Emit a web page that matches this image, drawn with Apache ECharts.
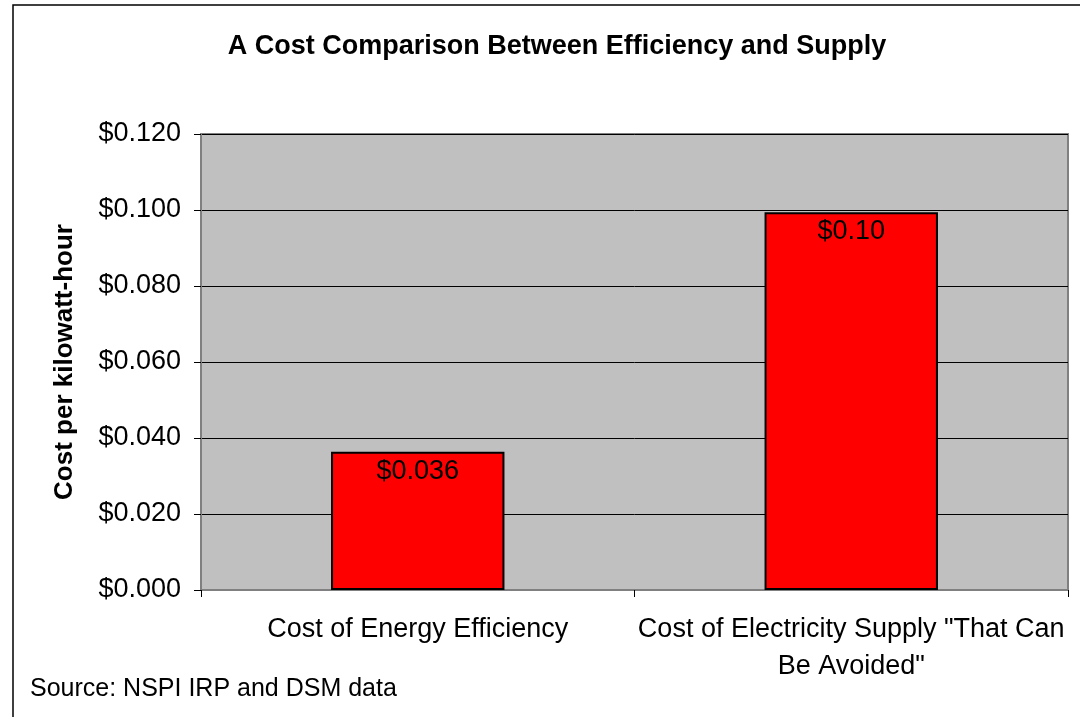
<!DOCTYPE html>
<html>
<head>
<meta charset="utf-8">
<title>A Cost Comparison Between Efficiency and Supply</title>
<script src="https://cdn.jsdelivr.net/npm/echarts@6/dist/echarts.min.js"></script>
<style>
  html, body { margin: 0; padding: 0; background: #fff; }
  #chart { width: 1080px; height: 717px; }
</style>
</head>
<body>
<div id="chart"></div>
<script>
// data
const categories = ['Cost of Energy Efficiency', 'Cost of Electricity Supply "That Can\nBe Avoided"']
const costs = [0.0364, 0.0994]
const barLabels = ['$0.036', '$0.10']

const chart = echarts.init(document.getElementById('chart'))

const option = {
  backgroundColor: '#fff',
  animation: false,
  textStyle: { fontFamily: 'Liberation Sans, Arial, sans-serif' },
  title: {
    text: 'A Cost Comparison Between Efficiency and Supply',
    left: 552,
    textAlign: 'center',
    top: 28,
    textStyle: { fontSize: 27, fontWeight: 'bold', color: '#000' }
  },
  grid: {
    left: 201,
    right: 12,
    top: 134,
    bottom: 127,
    show: true,
    backgroundColor: '#C0C0C0',
    borderColor: '#808080',
    borderWidth: 2
  },
  xAxis: {
    type: 'category',
    data: categories,
    axisLine: { lineStyle: { color: '#808080', width: 2 } },
    axisTick: { show: true, length: 7, lineStyle: { color: '#000' } },
    axisLabel: {
      interval: 0,
      color: '#000',
      fontSize: 27,
      lineHeight: 37,
      margin: 21
    }
  },
  yAxis: {
    type: 'value',
    min: 0,
    max: 0.12,
    interval: 0.02,
    name: 'Cost per kilowatt-hour',
    nameLocation: 'middle',
    nameGap: 123,
    nameTextStyle: { fontSize: 26, fontWeight: 'bold', color: '#000' },
    axisLine: { show: true, lineStyle: { color: '#808080', width: 2 } },
    axisTick: { show: true, length: 7, lineStyle: { color: '#000' } },
    axisLabel: {
      color: '#000',
      fontSize: 27,
      margin: 20,
      formatter: v => '$' + v.toFixed(3)
    },
    splitLine: { lineStyle: { color: '#000', width: 1 } }
  },
  series: [{
    type: 'bar',
    data: costs,
    barWidth: '40%',
    itemStyle: { color: '#FF0000', borderColor: '#000', borderWidth: 2 },
    label: {
      show: true,
      position: 'insideTop',
      distance: 6,
      color: '#000',
      fontSize: 27,
      formatter: p => barLabels[p.dataIndex]
    }
  }],
  graphic: [
    {
      type: 'rect',
      shape: { x: 13, y: 5, width: 1100, height: 730 },
      style: { fill: null, stroke: '#000', lineWidth: 1.5 },
      silent: true
    },
    {
      type: 'text',
      left: 30,
      top: 677,
      style: { text: 'Source: NSPI IRP and DSM data', fontSize: 25, fill: '#000', fontFamily: 'Liberation Sans, Arial, sans-serif' }
    }
  ]
}

chart.setOption(option)
</script>
</body>
</html>
